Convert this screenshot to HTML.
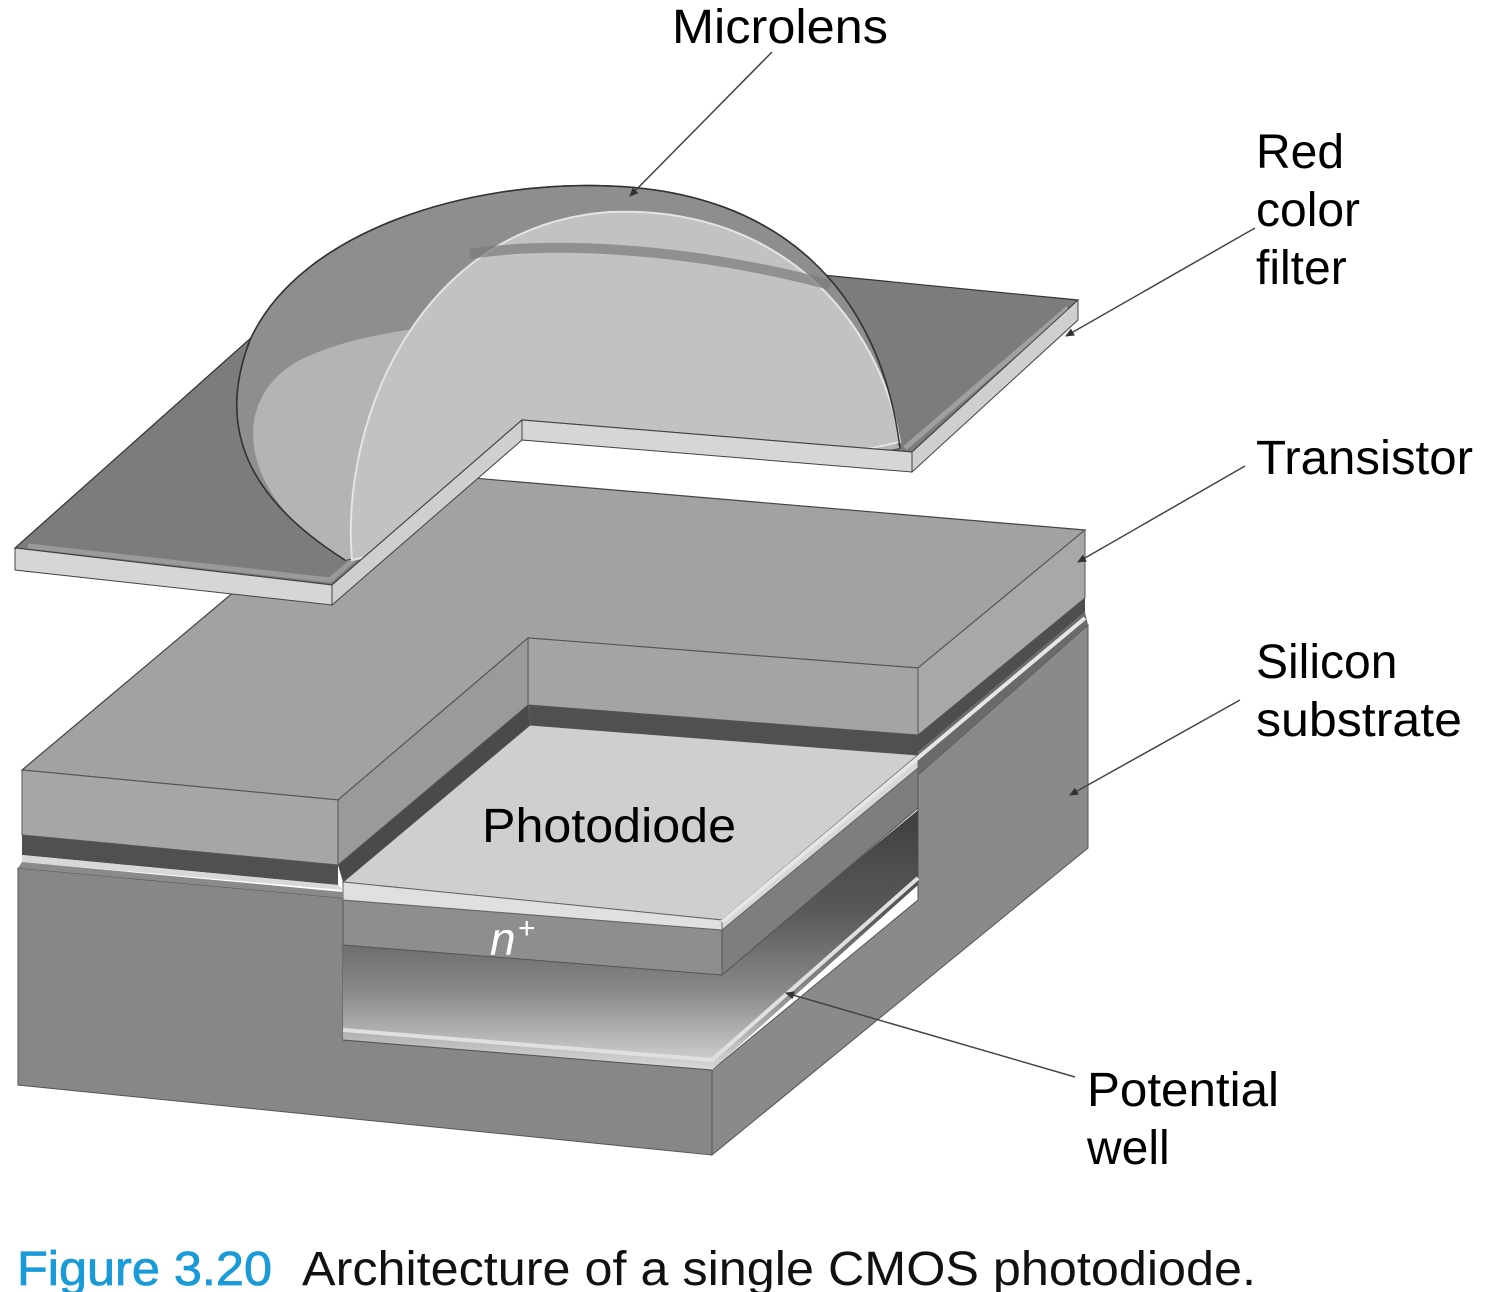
<!DOCTYPE html>
<html><head><meta charset="utf-8"><style>
html,body{margin:0;padding:0;background:#fff;}
svg{display:block;}
text{font-family:"Liberation Sans",sans-serif;}
</style></head><body>
<svg width="1500" height="1292" viewBox="0 0 1500 1292" xmlns="http://www.w3.org/2000/svg">
<defs>
<linearGradient id="cav" x1="0" y1="0" x2="0" y2="1">
<stop offset="0" stop-color="#3e3e3e"/><stop offset="0.4" stop-color="#5a5a5a"/><stop offset="0.7" stop-color="#8a8a8a"/><stop offset="0.85" stop-color="#b0b0b0"/><stop offset="1" stop-color="#d8d8d8"/>
</linearGradient>
<marker id="ah" markerWidth="10" markerHeight="10" refX="8" refY="5" orient="auto" markerUnits="userSpaceOnUse">
<path d="M0,1 L9,5 L0,9 Z" fill="#333"/></marker>
<clipPath id="domeclip"><path d="M0,0 H1500 V420 L912,452 L522,422 L332,585 L0,600 Z"/></clipPath>
</defs>
<rect width="1500" height="1292" fill="#fff"/>

<!-- Substrate -->
<polygon points="18,868 343,898 343,1040 712,1070 712,1155 18,1085" fill="#878787" stroke="#555" stroke-width="1"/>
<polygon points="918,775 1088,625 1088,848 712,1155 712,1070 918,900" fill="#8a8a8a" stroke="#555" stroke-width="1"/>
<polygon points="343,940 722,972 918,810 918,885 712,1070 343,1040" fill="url(#cav)"/>
<polyline points="343,1030 712,1060 918,878" fill="none" stroke="#e0e0e0" stroke-width="4"/>
<polyline points="343,1040 712,1070" fill="none" stroke="#555" stroke-width="1"/>
<polygon points="343,900 722,930 722,975 343,945" fill="#8e8e8e" stroke="#555" stroke-width="1"/>
<polygon points="722,930 918,768 918,808 722,975" fill="#7e7e7e" stroke="#555" stroke-width="1"/>
<polygon points="343,882 530,725 918,755 722,920" fill="#cfcfcf" stroke="#555" stroke-width="1"/>
<polygon points="343,882 722,920 722,930 343,900" fill="#e0e0e0" stroke="#666" stroke-width="1"/>
<polygon points="722,920 918,755 918,768 722,930" fill="#d8d8d8" stroke="#666" stroke-width="1"/>

<polygon points="22,835 338,865 338,885 22,855" fill="#505050"/>
<polygon points="22,855 338,885 343,890 22,862" fill="#d8d8d8"/>
<polygon points="22,862 343,892 343,898 18,868" fill="#8a8a8a"/>
<polygon points="528,705 918,735 918,755 530,725" fill="#505050"/>
<polygon points="338,865 528,705 530,725 343,882" fill="#4a4a4a"/>
<polygon points="918,735 1085,598 1085,612 918,752" fill="#4e4e4e"/>
<polygon points="918,752 1085,612 1088,625 918,775" fill="#6a6a6a"/>
<polyline points="722,922 1085,618" fill="none" stroke="#e6e6e6" stroke-width="4"/>

<polygon points="22,770 338,800 528,638 918,668 1085,530 379,470" fill="#a2a2a2" stroke="#444" stroke-width="1.2"/>
<polygon points="22,770 338,800 338,865 22,835" fill="#a6a6a6" stroke="#555" stroke-width="1"/>
<polygon points="338,800 528,638 528,705 338,865" fill="#9a9a9a" stroke="#555" stroke-width="1"/>
<polygon points="528,638 918,668 918,735 528,705" fill="#a4a4a4" stroke="#555" stroke-width="1"/>
<polygon points="918,668 1085,530 1085,598 918,735" fill="#a8a8a8" stroke="#555" stroke-width="1"/>

<!-- Red color filter top -->
<polygon points="15,548 332,585 522,420 912,452 1078,300 371,231" fill="#7c7c7c" stroke="#333" stroke-width="1.2"/>
<polyline points="28,546 330,580 516,420" fill="none" stroke="#9a9a9a" stroke-width="5"/>
<polyline points="905,448 1068,308" fill="none" stroke="#a0a0a0" stroke-width="5"/>

<!-- Microlens dome (clipped by notch) -->
<g clip-path="url(#domeclip)">
<path d="M345,560 C250,500 215,430 250,340 C300,230 470,180 610,186 C780,192 880,290 900,448 L345,560 Z" fill="#8e8e8e" stroke="#333" stroke-width="1.5"/>
<path d="M345,560 C240,500 225,400 300,360 C420,300 760,300 900,448 Z" fill="#b4b4b4"/>
<path d="M352,560 C340,420 420,225 610,212 C780,205 880,320 900,442 L352,560 Z" fill="#c2c2c2" stroke="#e4e4e4" stroke-width="2"/>
<path d="M470,254 C560,240 700,250 830,285" fill="none" stroke="#7a7a7a" stroke-width="10" opacity="0.7"/>
<path d="M345,560 C250,500 215,430 250,340 C300,230 470,180 610,186 C780,192 880,290 900,448" fill="none" stroke="#333" stroke-width="1.5"/>
</g>
<polyline points="332,585 522,420 912,452" fill="none" stroke="#333" stroke-width="1.2"/>

<!-- filter front faces -->
<polygon points="15,548 332,585 332,605 15,570" fill="#d6d6d6" stroke="#444" stroke-width="1"/>
<polygon points="332,585 522,420 522,440 332,605" fill="#cfcfcf" stroke="#444" stroke-width="1"/>
<polygon points="522,420 912,452 912,472 522,440" fill="#d6d6d6" stroke="#444" stroke-width="1"/>
<polygon points="912,452 1078,300 1078,320 912,472" fill="#cfcfcf" stroke="#444" stroke-width="1"/>

<!-- Labels -->
<text x="672" y="43" font-size="48" textLength="216" lengthAdjust="spacingAndGlyphs">Microlens</text>
<line x1="772" y1="52" x2="630" y2="196" stroke="#444" stroke-width="1.5" marker-end="url(#ah)"/>
<text x="1256" y="168" font-size="48">Red</text>
<text x="1256" y="226" font-size="48">color</text>
<text x="1256" y="284" font-size="48">filter</text>
<line x1="1255" y1="228" x2="1066" y2="336" stroke="#444" stroke-width="1.5" marker-end="url(#ah)"/>
<text x="1256" y="474" font-size="48" textLength="217" lengthAdjust="spacingAndGlyphs">Transistor</text>
<line x1="1245" y1="466" x2="1078" y2="562" stroke="#444" stroke-width="1.5" marker-end="url(#ah)"/>
<text x="1256" y="678" font-size="48">Silicon</text>
<text x="1256" y="736" font-size="48" textLength="206" lengthAdjust="spacingAndGlyphs">substrate</text>
<line x1="1240" y1="700" x2="1070" y2="795" stroke="#444" stroke-width="1.5" marker-end="url(#ah)"/>
<text x="1087" y="1106" font-size="48" textLength="192" lengthAdjust="spacingAndGlyphs">Potential</text>
<text x="1087" y="1164" font-size="48">well</text>
<line x1="1075" y1="1077" x2="786" y2="993" stroke="#444" stroke-width="1.5" marker-end="url(#ah)"/>
<text x="482" y="842" font-size="48" textLength="254" lengthAdjust="spacingAndGlyphs">Photodiode</text>
<text x="490" y="955" font-size="46" font-style="italic" fill="#fff">n</text>
<text x="518" y="938" font-size="30" fill="#fff">+</text>

<text x="17" y="1285" font-size="48" fill="#1a9bd7" stroke="#1a9bd7" stroke-width="0.8" textLength="255" lengthAdjust="spacingAndGlyphs">Figure 3.20</text>
<text x="302" y="1285" font-size="48" fill="#111" textLength="954" lengthAdjust="spacingAndGlyphs">Architecture of a single CMOS photodiode.</text>
</svg>
</body></html>
